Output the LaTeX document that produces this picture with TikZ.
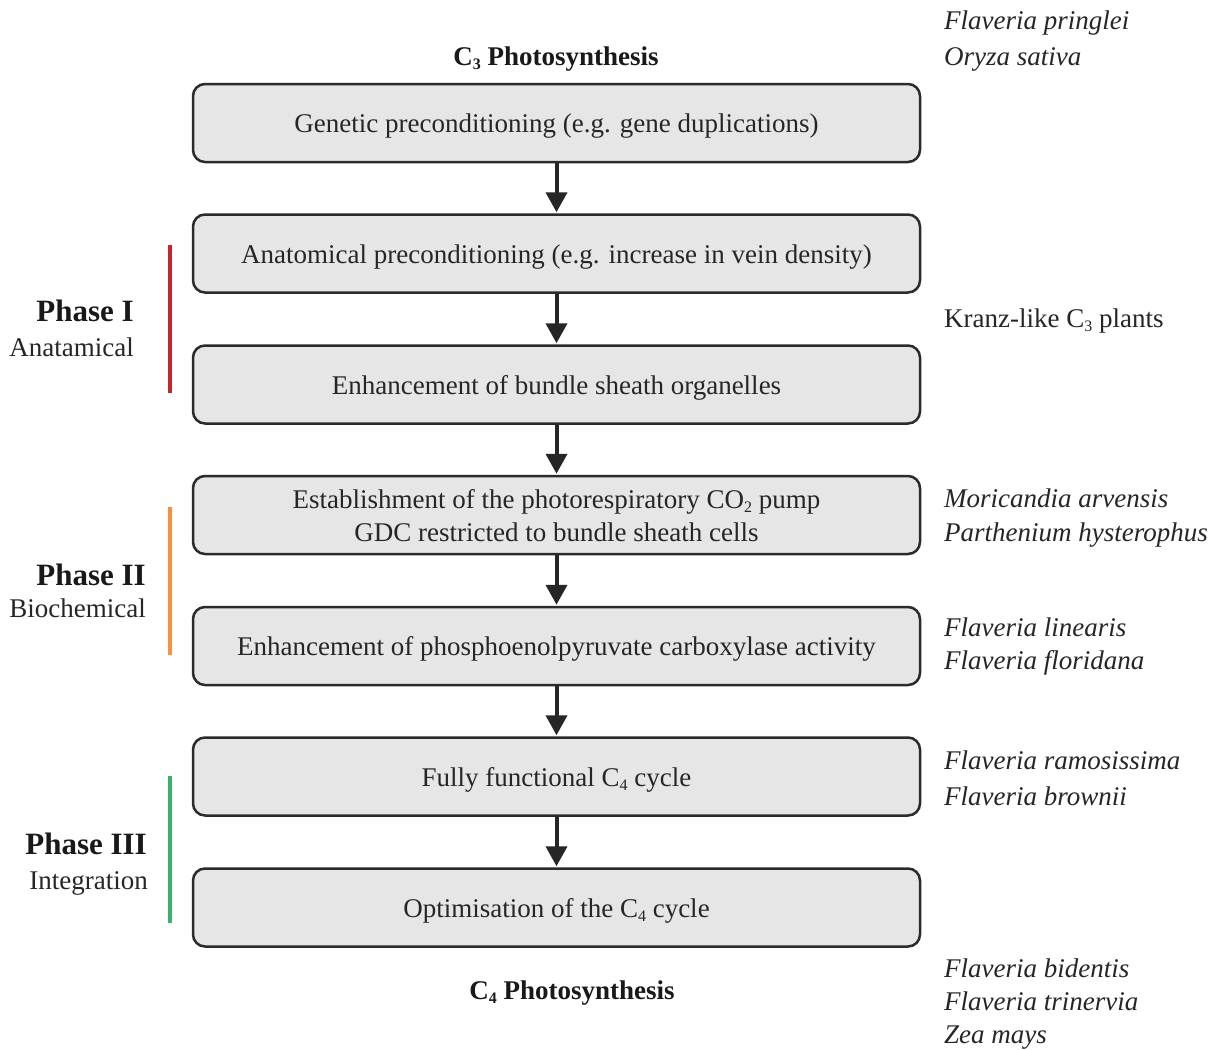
\documentclass[tikz,border=0pt]{standalone}
\usepackage{fontspec}
\setmainfont{Liberation Serif}
\usetikzlibrary{arrows.meta}
\definecolor{boxfill}{HTML}{E6E6E6}
\definecolor{boxdraw}{HTML}{2B2B2B}
\definecolor{phred}{HTML}{C1272D}
\definecolor{phorange}{HTML}{F7923A}
\definecolor{phgreen}{HTML}{3AB26A}
\newcommand{\lowsub}[1]{\raisebox{-0.35ex}{\fontsize{16}{16}\selectfont #1}}
\newcommand{\bt}[1]{\raisebox{-9.5pt}[0pt][0pt]{#1}}
\begin{document}
\begin{tikzpicture}[x=1pt,y=-1pt,
  stepbox/.style={draw=boxdraw,fill=boxfill,line width=2.5pt,rounded corners=12pt,
    minimum width=727pt,minimum height=78pt,inner sep=0pt,align=center,
    font=\fontsize{27}{33}\selectfont,text=black!85},
  flow/.style={line width=4pt,draw=black!85,-{Triangle[width=21pt,length=20pt]},shorten >=1pt},
  species/.style={anchor=west,inner sep=0pt,font=\fontsize{27}{30}\selectfont\itshape,text=black!85,text height=22pt,text depth=3pt},
  plain/.style={anchor=west,inner sep=0pt,font=\fontsize{27}{30}\selectfont,text=black!85,text height=22pt,text depth=3pt},
  phasehead/.style={anchor=east,inner sep=0pt,font=\fontsize{31}{34}\selectfont\bfseries,text=black!90,text height=22pt,text depth=0pt},
  phasesub/.style={anchor=east,inner sep=0pt,font=\fontsize{27}{30}\selectfont,text=black!85,text height=22pt,text depth=3pt},
  title/.style={inner sep=0pt,font=\fontsize{27}{30}\selectfont\bfseries,text=black!90,text height=22pt,text depth=3pt},
  phaseline/.style={line width=4pt}
]
\useasboundingbox (0,0) rectangle (1225,1049);
\fill[white] (0,0) rectangle (1225,1049);

% boxes
\node[stepbox] (b1) at (556.5,123) {\bt{Genetic preconditioning (e.g. gene duplications)}};
\node[stepbox] (b2) at (556.5,253.5) {\bt{Anatomical preconditioning (e.g. increase in vein density)}};
\node[stepbox] (b3) at (556.5,384.5) {\bt{Enhancement of bundle sheath organelles}};
\node[stepbox] (b4) at (556.5,515) {\bt{Establishment of the photorespiratory CO\lowsub{2} pump}\\\bt{GDC restricted to bundle sheath cells}};
\node[stepbox] (b5) at (556.5,646) {\bt{Enhancement of phosphoenolpyruvate carboxylase activity}};
\node[stepbox] (b6) at (556.5,776.5) {\bt{Fully functional C\lowsub{4} cycle}};
\node[stepbox] (b7) at (556.5,907.5) {\bt{Optimisation of the C\lowsub{4} cycle}};

% arrows
\draw[flow] (b1.south) -- (b2.north);
\draw[flow] (b2.south) -- (b3.north);
\draw[flow] (b3.south) -- (b4.north);
\draw[flow] (b4.south) -- (b5.north);
\draw[flow] (b5.south) -- (b6.north);
\draw[flow] (b6.south) -- (b7.north);

% titles
\node[title] (t3) at (556,56) {C\lowsub{3} Photosynthesis};
\node[title] (t4) at (572,990) {C\lowsub{4} Photosynthesis};

% phase bars
\coordinate (r1) at (170,245); \coordinate (r2) at (170,393);
\coordinate (o1) at (170,507); \coordinate (o2) at (170,655);
\coordinate (g1) at (170,776); \coordinate (g2) at (170,923);
\draw[phaseline,phred] (r1) -- (r2);
\draw[phaseline,phorange] (o1) -- (o2);
\draw[phaseline,phgreen] (g1) -- (g2);

% phase labels
\node[phasehead] (p1) at (134,310) {Phase I};
\node[phasesub] (p1s) at (134,347) {Anatamical};
\node[phasehead] (p2) at (146,574) {Phase II};
\node[phasesub] (p2s) at (146,608) {Biochemical};
\node[phasehead] (p3) at (147,843) {Phase III};
\node[phasesub] (p3s) at (148,880) {Integration};

% species
\node[species] (s1) at (944,20) {Flaveria pringlei};
\node[species] (s2) at (944,56) {Oryza sativa};
\node[plain] (s3) at (944,318) {Kranz-like C\lowsub{3} plants};
\node[species] (s4) at (944,498) {Moricandia arvensis};
\node[species] (s5) at (944,532) {Parthenium hysterophus};
\node[species] (s6) at (944,627) {Flaveria linearis};
\node[species] (s7) at (944,660) {Flaveria floridana};
\node[species] (s8) at (944,760) {Flaveria ramosissima};
\node[species] (s9) at (944,796) {Flaveria brownii};
\node[species] (s10) at (944,968) {Flaveria bidentis};
\node[species] (s11) at (944,1001) {Flaveria trinervia};
\node[species] (s12) at (944,1034) {Zea mays};
\end{tikzpicture}
\end{document}
